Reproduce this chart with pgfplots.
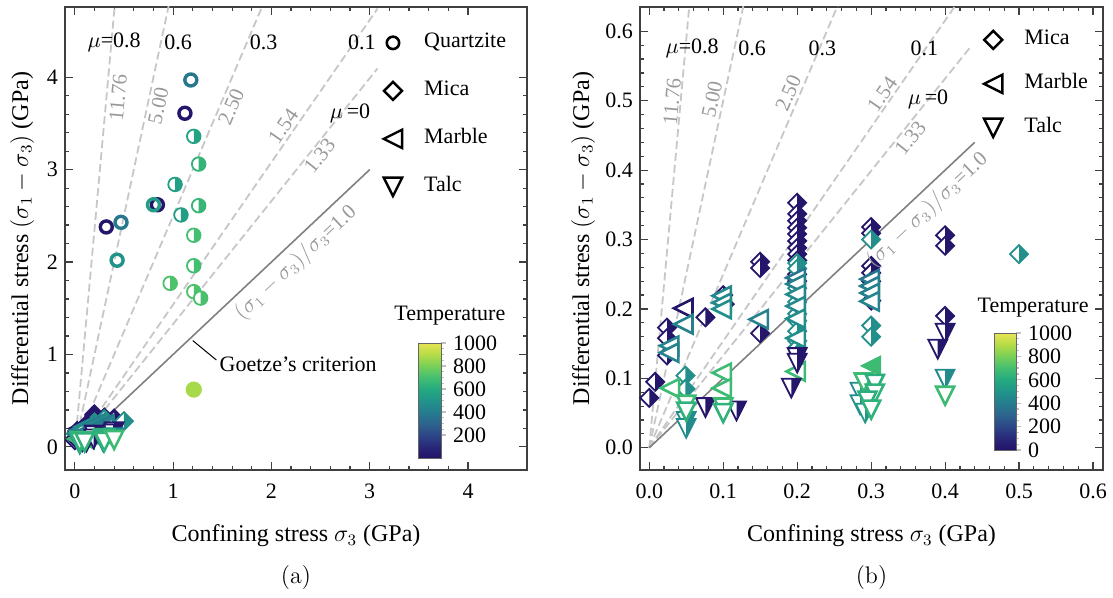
\documentclass[border=0pt]{standalone}
\usepackage{fontspec}
\setmainfont{Liberation Serif}
\usepackage{pgfplots}
\pgfplotsset{compat=1.18}
\usepackage{pgfplotstable}
\usetikzlibrary{calc}

\pgfplotsset{colormap={tv}{rgb255=(36,18,104) rgb255=(40,40,120) rgb255=(45,70,135) rgb255=(45,100,142) rgb255=(38,125,142) rgb255=(33,148,138) rgb255=(36,170,128) rgb255=(68,190,112) rgb255=(120,207,88) rgb255=(180,220,70) rgb255=(232,228,82)}}

% half-filled (right half) marks
\pgfdeclareplotmark{hcirc}{%
  \pgfpathcircle{\pgfpointorigin}{\pgfplotmarksize}%
  \pgfsetfillcolor{white}\pgfusepathqfill
  \pgfpathmoveto{\pgfqpoint{0pt}{\pgfplotmarksize}}%
  \pgfpatharc{90}{-90}{\pgfplotmarksize}%
  \pgfpathclose
  \pgfsetfillcolor{mapped color}\pgfusepathqfill
  \pgfpathcircle{\pgfpointorigin}{\pgfplotmarksize}%
  \pgfusepathqstroke}
\pgfdeclareplotmark{hdiam}{%
  \pgfpathmoveto{\pgfqpoint{0pt}{\pgfplotmarksize}}%
  \pgfpathlineto{\pgfqpoint{\pgfplotmarksize}{0pt}}%
  \pgfpathlineto{\pgfqpoint{0pt}{-\pgfplotmarksize}}%
  \pgfpathlineto{\pgfqpoint{-\pgfplotmarksize}{0pt}}%
  \pgfpathclose
  \pgfsetfillcolor{white}\pgfusepathqfill
  \pgfpathmoveto{\pgfqpoint{0pt}{\pgfplotmarksize}}%
  \pgfpathlineto{\pgfqpoint{\pgfplotmarksize}{0pt}}%
  \pgfpathlineto{\pgfqpoint{0pt}{-\pgfplotmarksize}}%
  \pgfpathclose
  \pgfsetfillcolor{mapped color}\pgfusepathqfill
  \pgfpathmoveto{\pgfqpoint{0pt}{\pgfplotmarksize}}%
  \pgfpathlineto{\pgfqpoint{\pgfplotmarksize}{0pt}}%
  \pgfpathlineto{\pgfqpoint{0pt}{-\pgfplotmarksize}}%
  \pgfpathlineto{\pgfqpoint{-\pgfplotmarksize}{0pt}}%
  \pgfpathclose
  \pgfusepathqstroke}
\pgfdeclareplotmark{hdtri}{%
  \pgfpathmoveto{\pgfqpoint{0pt}{-\pgfplotmarksize}}%
  \pgfpathlineto{\pgfqpoint{\pgfplotmarksize}{\pgfplotmarksize}}%
  \pgfpathlineto{\pgfqpoint{-\pgfplotmarksize}{\pgfplotmarksize}}%
  \pgfpathclose
  \pgfsetfillcolor{white}\pgfusepathqfill
  \pgfpathmoveto{\pgfqpoint{0pt}{-\pgfplotmarksize}}%
  \pgfpathlineto{\pgfqpoint{\pgfplotmarksize}{\pgfplotmarksize}}%
  \pgfpathlineto{\pgfqpoint{0pt}{\pgfplotmarksize}}%
  \pgfpathclose
  \pgfsetfillcolor{mapped color}\pgfusepathqfill
  \pgfpathmoveto{\pgfqpoint{0pt}{-\pgfplotmarksize}}%
  \pgfpathlineto{\pgfqpoint{\pgfplotmarksize}{\pgfplotmarksize}}%
  \pgfpathlineto{\pgfqpoint{-\pgfplotmarksize}{\pgfplotmarksize}}%
  \pgfpathclose
  \pgfusepathqstroke}
% open / plain marks (fill = current fill colour)
\pgfdeclareplotmark{odiam}{%
  \pgfpathmoveto{\pgfqpoint{0pt}{\pgfplotmarksize}}%
  \pgfpathlineto{\pgfqpoint{\pgfplotmarksize}{0pt}}%
  \pgfpathlineto{\pgfqpoint{0pt}{-\pgfplotmarksize}}%
  \pgfpathlineto{\pgfqpoint{-\pgfplotmarksize}{0pt}}%
  \pgfpathclose
  \pgfusepathqfillstroke}
\pgfdeclareplotmark{odtri}{%
  \pgfpathmoveto{\pgfqpoint{0pt}{-\pgfplotmarksize}}%
  \pgfpathlineto{\pgfqpoint{\pgfplotmarksize}{\pgfplotmarksize}}%
  \pgfpathlineto{\pgfqpoint{-\pgfplotmarksize}{\pgfplotmarksize}}%
  \pgfpathclose
  \pgfusepathqfillstroke}
\pgfdeclareplotmark{oltri}{%
  \pgfpathmoveto{\pgfqpoint{-\pgfplotmarksize}{0pt}}%
  \pgfpathlineto{\pgfqpoint{\pgfplotmarksize}{\pgfplotmarksize}}%
  \pgfpathlineto{\pgfqpoint{\pgfplotmarksize}{-\pgfplotmarksize}}%
  \pgfpathclose
  \pgfusepathqfillstroke}

\pgfplotstableread{
x y T
1.12 3.61 20
0.84 2.62 20
0.32 2.38 20
1.18 3.97 380
0.80 2.62 540
0.47 2.43 380
0.43 2.02 500
}\qzopen
\pgfplotstableread{
x y T
1.21 3.36 570
1.26 3.06 650
1.02 2.84 550
1.26 2.61 660
1.08 2.51 540
1.21 2.29 700
1.21 1.96 700
0.97 1.77 720
1.21 1.68 720
1.28 1.61 710
}\qzhalf
\pgfplotstableread{
x y T
1.21 0.62 880
}\qzfull
\pgfplotstableread{
x y T
0.000 0.072 20
0.008 0.095 20
0.024 0.173 20
0.024 0.158 20
0.024 0.133 20
0.076 0.188 20
0.100 0.220 20
0.102 0.207 20
0.150 0.268 20
0.150 0.259 20
0.150 0.165 20
0.200 0.353 20
0.200 0.337 20
0.200 0.327 20
0.200 0.317 20
0.200 0.308 20
0.200 0.298 20
0.200 0.288 20
0.200 0.279 20
0.200 0.270 20
0.200 0.250 20
0.200 0.240 20
0.300 0.318 20
0.300 0.309 20
0.300 0.262 20
0.300 0.252 20
0.300 0.240 20
0.300 0.212 20
0.400 0.306 20
0.400 0.291 20
0.400 0.190 20
0.049 0.104 480
0.049 0.085 480
0.200 0.266 480
0.200 0.258 480
0.200 0.230 480
0.200 0.210 480
0.200 0.193 480
0.200 0.183 480
0.200 0.168 480
0.200 0.154 480
0.200 0.144 480
0.200 0.134 480
0.300 0.300 480
0.300 0.176 480
0.300 0.160 480
0.500 0.279 480
}\mica
\pgfplotstableread{
x y T
0.046 0.201 20
0.046 0.178 420
0.027 0.147 430
0.027 0.137 430
0.028 0.086 680
0.098 0.219 450
0.098 0.209 450
0.098 0.200 480
0.098 0.108 680
0.098 0.086 680
0.148 0.185 420
0.198 0.245 380
0.198 0.236 420
0.198 0.221 450
0.198 0.204 450
0.198 0.186 470
0.198 0.158 480
0.198 0.110 680
0.298 0.243 360
0.298 0.233 400
0.298 0.223 420
0.298 0.211 430
}\marble
\pgfplotstableread{
x y T
0.300 0.118 680
}\marblefull
\pgfplotstableread{
x y T
0.076 0.058 20
0.118 0.053 20
0.200 0.130 20
0.200 0.122 20
0.192 0.086 20
0.400 0.165 20
0.390 0.142 20
0.400 0.099 460
0.050 0.038 460
0.050 0.028 460
0.285 0.080 460
0.285 0.062 460
0.292 0.050 520
}\talchalf
\pgfplotstableread{
x y T
0.050 0.062 680
0.050 0.052 640
0.100 0.058 680
0.100 0.050 640
0.290 0.094 680
0.305 0.092 620
0.305 0.078 640
0.295 0.068 620
0.300 0.055 640
0.400 0.075 680
}\talcopen

\pgfplotsset{
  panel/.style={
    scale only axis, clip mode=individual,
    axis line style={black!75, line width=0.6pt},
    every tick/.style={black!75, line width=0.6pt},
    tick align=inside, xtick pos=both, ytick pos=both,
    major tick length=4pt, minor tick length=2pt,
    minor x tick num=4, minor y tick num=4,
    tick label style={font=\fontsize{11}{13}\selectfont},
    /pgf/number format/assume math mode=true,
    label style={font=\fontsize{12}{14}\selectfont},
    xticklabel style={yshift=-3.5pt},
    xlabel style={at={(axis description cs:0.5,-0.1425)}, anchor=center},
    colormap name=tv, point meta min=0, point meta max=1000,
    legend cell align=left,
    legend image code/.code={\draw[##1] plot coordinates {(0pt,0pt)};},
  },
  sc/.style={only marks, scatter, scatter src=explicit, forget plot},
  openmk/.style={sc, scatter/use mapped color={draw=mapped color, fill=white}, mark options={line width=1.3pt}},
  halfmk/.style={sc, scatter/use mapped color={draw=mapped color, fill=white}, mark options={line width=0.9pt}},
  fullmk/.style={sc, scatter/use mapped color={draw=mapped color, fill=mapped color}, mark options={line width=0.9pt}},
  dashl/.style={forget plot, black!22, line width=0.9pt, dash pattern=on 4pt off 2pt},
  solidl/.style={forget plot, black!50, line width=0.8pt},
  cbar/.style={
    scale only axis, width=11.5pt,
    ytick pos=right, yticklabel pos=right, ytick align=outside,
    minor y tick num=3,
    major tick length=2.5pt, minor tick length=1.5pt,
    every tick/.style={black!25, line width=0.6pt},
    axis line style={black!60, line width=0.4pt},
    yticklabel style={font=\fontsize{11}{13}\selectfont, /pgf/number format/1000 sep={}},
    /pgf/number format/assume math mode=true,
  },
}

\begin{document}
\begin{tikzpicture}[font=\fontsize{11}{13}\selectfont]
\useasboundingbox (0,0) rectangle (556.5pt,299pt);

% ---------------- panel (a) ----------------
\begin{axis}[panel,
  at={(32.5pt,64pt)}, anchor=south west,
  width=231pt, height=231.5pt,
  xmin=-0.1, xmax=4.6, ymin=-0.25, ymax=4.76,
  xtick={0,1,2,3,4}, ytick={0,1,2,3,4},
  xlabel={Confining stress $\sigma_3$ (GPa)},
  ylabel={Differential stress $(\sigma_1-\sigma_3)$ (GPa)},
  ylabel style={at={(axis description cs:-0.093,0.5)}, anchor=center, rotate=0},
  colorbar,
  colorbar style={cbar, at={($(parent axis.south west)+(168pt,6pt)$)}, anchor=south west,
    height=57.5pt, ytick={200,400,600,800,1000}},
  legend style={draw=none, fill=none, inner sep=0pt, outer sep=0pt,
    at={(axis description cs:0.690,0.767)}, anchor=west,
    row sep=13pt, column sep=11pt,
    nodes={inner sep=0pt, text height=8pt, text depth=3pt, font=\fontsize{11}{13}\selectfont}},
]
\addplot[dashl] coordinates {(0,0) (3.08,36.22)};
\addplot[dashl] coordinates {(0,0) (3.08,15.40)};
\addplot[dashl] coordinates {(0,0) (3.08,7.70)};
\addplot[dashl] coordinates {(0,0) (3.08,4.743)};
\addplot[dashl] coordinates {(0,0) (3.08,4.096)};
\addplot[solidl] coordinates {(0,0) (3,3)};

\addplot[openmk, mark=o, mark size=3.0pt, mark options={line width=1.7pt}] table[x=x,y=y,meta=T]{\qzopen};
\addplot[halfmk, mark=hcirc, mark size=3.4pt] table[x=x,y=y,meta=T]{\qzhalf};
\addplot[fullmk, mark=*, mark size=3.6pt] table[x=x,y=y,meta=T]{\qzfull};
\addplot[halfmk, mark=hdiam, mark size=4.5pt] table[x=x,y=y,meta=T]{\mica};
\addplot[openmk, mark=oltri, mark size=4.6pt] table[x=x,y=y,meta=T]{\marble};
\addplot[fullmk, mark=oltri, mark size=4.6pt] table[x=x,y=y,meta=T]{\marblefull};
\addplot[halfmk, mark=hdtri, mark size=4.7pt] table[x=x,y=y,meta=T]{\talchalf};
\addplot[openmk, mark=odtri, mark size=4.5pt] table[x=x,y=y,meta=T]{\talcopen};

\addlegendimage{mark=o, draw=black, line width=1.3pt, mark size=3.1pt}
\addlegendentry{Quartzite}
\addlegendimage{mark=odiam, draw=black, fill=white, line width=1.2pt, mark size=4.5pt}
\addlegendentry{Mica}
\addlegendimage{mark=oltri, draw=black, fill=white, line width=1.2pt, mark size=4.6pt}
\addlegendentry{Marble}
\addlegendimage{mark=odtri, draw=black, fill=white, line width=1.2pt, mark size=4.6pt}
\addlegendentry{Talc}

\node at (axis cs:0.40,4.38) {$\mu$=0.8};
\node at (axis cs:1.05,4.38) {0.6};
\node at (axis cs:1.92,4.38) {0.3};
\node at (axis cs:2.92,4.38) {0.1};
\node at (axis cs:2.80,3.61) {$\mu\,$=0};
\begin{scope}[every node/.style={text=black!40, font=\fontsize{10.5}{12}\selectfont}]
\node[rotate=84.8] at (axis cs:0.44,3.78) {11.76};
\node[rotate=78] at (axis cs:0.85,3.69) {5.00};
\node[rotate=66.9] at (axis cs:1.59,3.68) {2.50};
\node[rotate=55.3] at (axis cs:2.12,3.47) {1.54};
\node[rotate=51.3] at (axis cs:2.49,3.15) {1.33};
\node[rotate=43, inner sep=1pt] at (axis cs:2.25,1.99) {$(\sigma_1-\sigma_3)/\sigma_3$=1.0};
\end{scope}
\draw[black, line width=0.5pt] (axis cs:1.20,1.15) -- (axis cs:1.44,0.94);
\node[anchor=west, inner sep=0pt] at (axis cs:1.47,0.89) {Goetze’s criterion};
\node at (axis description cs:0.833,0.333) {Temperature};
\node[font=\fontfamily{lmr}\fontsize{12}{14}\selectfont] at (axis description cs:0.5,-0.233) {(a)};
\end{axis}

% ---------------- panel (b) ----------------
\begin{axis}[panel,
  at={(320pt,64pt)}, anchor=south west,
  width=231.5pt, height=231.5pt,
  xmin=-0.0125, xmax=0.6135, ymin=-0.032, ymax=0.635,
  xtick={0,0.1,0.2,0.3,0.4,0.5,0.6}, ytick={0,0.1,0.2,0.3,0.4,0.5,0.6},
  xticklabel style={/pgf/number format/.cd, fixed, fixed zerofill, precision=1},
  yticklabel style={/pgf/number format/.cd, fixed, fixed zerofill, precision=1},
  xlabel={Confining stress $\sigma_3$ (GPa)},
  ylabel={Differential stress $(\sigma_1-\sigma_3)$ (GPa)},
  ylabel style={at={(axis description cs:-0.123,0.5)}, anchor=center, rotate=0},
  colorbar,
  colorbar style={cbar, at={($(parent axis.south west)+(168.5pt,10pt)$)}, anchor=south west,
    width=11pt, height=58.5pt, ytick={0,200,400,600,800,1000}},
  legend style={draw=none, fill=none, inner sep=0pt, outer sep=0pt,
    at={(axis description cs:0.743,0.834)}, anchor=west,
    row sep=11pt, column sep=11pt,
    nodes={inner sep=0pt, text height=8pt, text depth=3pt, font=\fontsize{11}{13}\selectfont}},
]
\addplot[dashl] coordinates {(0,0) (0.434,5.104)};
\addplot[dashl] coordinates {(0,0) (0.434,2.170)};
\addplot[dashl] coordinates {(0,0) (0.434,1.085)};
\addplot[dashl] coordinates {(0,0) (0.434,0.668)};
\addplot[dashl] coordinates {(0,0) (0.434,0.577)};
\addplot[solidl] coordinates {(0,0) (0.44,0.44)};

\addplot[halfmk, mark=hdiam, mark size=4.5pt] table[x=x,y=y,meta=T]{\mica};
\addplot[openmk, mark=oltri, mark size=4.6pt] table[x=x,y=y,meta=T]{\marble};
\addplot[fullmk, mark=oltri, mark size=4.6pt] table[x=x,y=y,meta=T]{\marblefull};
\addplot[halfmk, mark=hdtri, mark size=4.7pt] table[x=x,y=y,meta=T]{\talchalf};
\addplot[openmk, mark=odtri, mark size=4.5pt] table[x=x,y=y,meta=T]{\talcopen};

\addlegendimage{mark=odiam, draw=black, fill=white, line width=1.2pt, mark size=4.5pt}
\addlegendentry{Mica}
\addlegendimage{mark=oltri, draw=black, fill=white, line width=1.2pt, mark size=4.6pt}
\addlegendentry{Marble}
\addlegendimage{mark=odtri, draw=black, fill=white, line width=1.2pt, mark size=4.6pt}
\addlegendentry{Talc}

\node at (axis cs:0.058,0.576) {$\mu$=0.8};
\node at (axis cs:0.139,0.576) {0.6};
\node at (axis cs:0.234,0.576) {0.3};
\node at (axis cs:0.372,0.576) {0.1};
\node at (axis cs:0.377,0.502) {$\mu\,$=0};
\begin{scope}[every node/.style={text=black!40, font=\fontsize{10.5}{12}\selectfont}]
\node[rotate=84.8] at (axis cs:0.031,0.499) {11.76};
\node[rotate=78] at (axis cs:0.085,0.502) {5.00};
\node[rotate=66.9] at (axis cs:0.188,0.511) {2.50};
\node[rotate=55.3] at (axis cs:0.315,0.509) {1.54};
\node[rotate=51.4] at (axis cs:0.353,0.446) {1.33};
\node[rotate=43.2, inner sep=1pt] at (axis cs:0.376,0.342) {$(\sigma_1-\sigma_3)/\sigma_3$=1.0};
\end{scope}
\node at (axis description cs:0.849,0.35) {Temperature};
\node[font=\fontfamily{lmr}\fontsize{12}{14}\selectfont] at (axis description cs:0.5,-0.233) {(b)};
\end{axis}
\end{tikzpicture}
\end{document}
